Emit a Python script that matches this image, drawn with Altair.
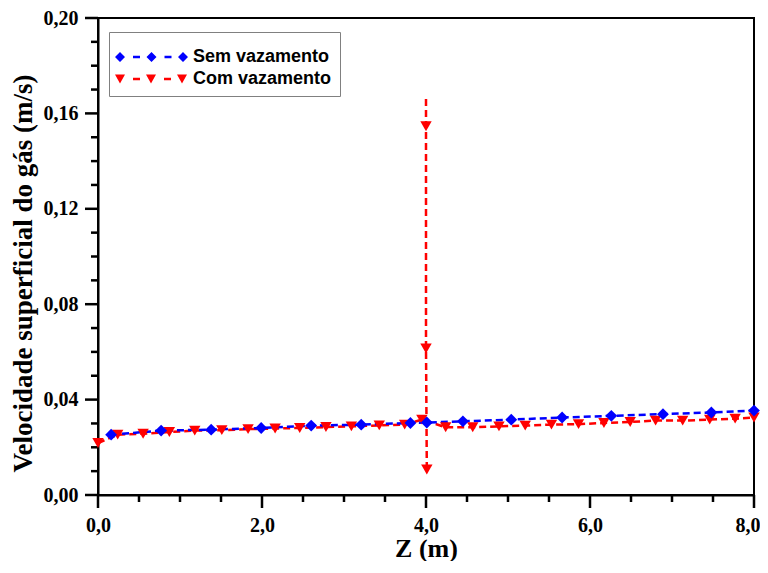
import altair as alt
import pandas as pd

# ---- data ----
series_names = ["Sem vazamento", "Com vazamento"]

blue_x = [0.16, 0.77, 1.38, 1.99, 2.60, 3.21, 3.81, 4.01, 4.45, 5.04, 5.66, 6.26, 6.89, 7.48, 8.0]
blue_y = [0.0253, 0.0270, 0.0274, 0.0281, 0.0291, 0.0295, 0.0302, 0.0304, 0.0309, 0.0316,
          0.0325, 0.0332, 0.0339, 0.0346, 0.0354]

red_x = [0.0, 0.24, 0.55, 0.87, 1.18, 1.51, 1.83, 2.16, 2.46, 2.78, 3.09, 3.43, 3.74, 3.95,
         4.24, 4.57, 4.89, 5.21, 5.53, 5.86, 6.17, 6.49, 6.80, 7.13, 7.46, 7.77, 8.0]
red_y = [0.0218, 0.0253, 0.0257, 0.0264, 0.0270, 0.0272, 0.0276, 0.0279, 0.0281, 0.0285, 0.0288,
         0.0292, 0.0295, 0.0316,
         0.0284, 0.0284, 0.0288, 0.0291, 0.0295, 0.0297, 0.0302, 0.0306, 0.0312, 0.0312,
         0.0316, 0.0320, 0.0325]
red_marker = [True] * len(red_x)

# the leak spike of the red series at Z = 4 m
spike_x = [4.0, 4.0, 4.0, 4.01]
spike_y = [0.166, 0.1546, 0.0614, 0.0107]
spike_marker = [False, True, True, True]

x_major = [0, 2, 4, 6, 8]
x_minor = [0.5, 1, 1.5, 2.5, 3, 3.5, 4.5, 5, 5.5, 6.5, 7, 7.5]
y_major = [0.0, 0.04, 0.08, 0.12, 0.16, 0.20]
y_minor = [0.01, 0.02, 0.03, 0.05, 0.06, 0.07, 0.09, 0.10, 0.11,
           0.13, 0.14, 0.15, 0.17, 0.18, 0.19]

W, H = 656, 477
MAJOR, MINOR = 13, 7

blue = pd.DataFrame({"z": blue_x, "v": blue_y, "i": list(range(len(blue_x)))})
red = pd.DataFrame({
    "z": red_x + spike_x,
    "v": red_y + spike_y,
    "i": list(range(len(red_x) + len(spike_x))),
    "m": red_marker + spike_marker,
    "seg": ["main"] * len(red_x) + ["spike"] * len(spike_x),
})
leg = pd.DataFrame({"s": series_names})

BLUE = "#0000FF"
RED = "#FF0000"
serif = "Liberation Serif"

xs = alt.Scale(domain=[0, 8], nice=False, zero=False)
ys = alt.Scale(domain=[0, 0.2], nice=False, zero=False)

x_axis = alt.Axis(
    orient="bottom", values=x_major,
    labelExpr="replace(format(datum.value, '.1f'), '.', ',')",
    labelAlign={"condition": {"test": "datum.value >= 8", "value": "right"}, "value": "center"},
    labelOffset={"condition": {"test": "datum.value >= 8", "value": 6}, "value": 0},
    ticks=False, domainWidth=2, domainColor="black",
    labelFont=serif, labelFontWeight="bold", labelFontSize=20, labelColor="black",
    labelPadding=MAJOR + 7, labelFlush=False, labelOverlap=False,
    title="Z (m)", titleFont=serif, titleFontWeight="bold", titleFontSize=26,
    titleColor="black", titlePadding=0, grid=False)
y_axis = alt.Axis(
    orient="left", values=y_major,
    labelExpr="replace(format(datum.value, '.2f'), '.', ',')",
    ticks=False, domainWidth=2, domainColor="black",
    labelFont=serif, labelFontWeight="bold", labelFontSize=20, labelColor="black",
    labelPadding=MAJOR + 7, labelFlush=False, labelOverlap=False,
    title="Velocidade superficial do gás (m/s)", titleFont=serif, titleFontWeight="bold",
    titleFontSize=27, titleColor="black", titlePadding=6, titleY=255, grid=False)


def x_tick_layer(values, length):
    return alt.Chart(pd.DataFrame({"t": values})).mark_rule(color="black", strokeWidth=2.5).encode(
        x=alt.X("t:Q", scale=xs), y=alt.value(H), y2=alt.value(H + length))


def y_tick_layer(values, length):
    return alt.Chart(pd.DataFrame({"t": values})).mark_rule(color="black", strokeWidth=2.5).encode(
        y=alt.Y("t:Q", scale=ys), x=alt.value(0), x2=alt.value(-length))


red_line = alt.Chart(red).mark_line(color=RED, strokeWidth=2.5, strokeDash=[7, 4]).encode(
    x=alt.X("z:Q", scale=xs, axis=x_axis),
    y=alt.Y("v:Q", scale=ys, axis=y_axis),
    detail="seg:N",
    order="i:Q")
blue_line = alt.Chart(blue).mark_line(color=BLUE, strokeWidth=2.5, strokeDash=[7, 4]).encode(
    x=alt.X("z:Q", scale=xs),
    y=alt.Y("v:Q", scale=ys),
    order="i:Q")
red_pts = alt.Chart(red).transform_filter("datum.m").mark_point(
    shape="triangle-down", filled=True, size=130, color=RED, opacity=1).encode(
    x=alt.X("z:Q", scale=xs), y=alt.Y("v:Q", scale=ys))
blue_pts = alt.Chart(blue).mark_point(
    shape="diamond", filled=True, size=140, color=BLUE, opacity=1).encode(
    x=alt.X("z:Q", scale=xs), y=alt.Y("v:Q", scale=ys))

ticks = [x_tick_layer(x_major, MAJOR), x_tick_layer(x_minor, MINOR),
         y_tick_layer(y_major, MAJOR), y_tick_layer(y_minor, MINOR)]

path_sem = ("M-5,0L0,-5L5,0L0,5Z M13,-1.25L20,-1.25L20,1.25L13,1.25Z "
            "M26.5,0L31.5,-5L36.5,0L31.5,5Z M44.5,-1.25L51.5,-1.25L51.5,1.25L44.5,1.25Z "
            "M58,0L63,-5L68,0L63,5Z")
path_com = ("M-5,-4.5L5,-4.5L0,4.5Z M13,-1.25L20,-1.25L20,1.25L13,1.25Z "
            "M26,-4.5L36,-4.5L31,4.5Z M44,-1.25L51,-1.25L51,1.25L44,1.25Z "
            "M57,-4.5L67,-4.5L62,4.5Z")

legend = alt.Legend(title=" ", titleFontSize=8, titlePadding=0,
                    orient="none", legendX=11, legendY=14, symbolSize=4,
                    symbolStrokeWidth=0, labelFont="Liberation Sans", labelFontSize=18,
                    labelFontWeight="bold", labelColor="black", labelOffset=64,
                    symbolOffset=-6, padding=8, rowPadding=4, strokeColor="#808080",
                    fillColor="white", labelLimit=400)
legend_layer = alt.Chart(leg).transform_filter("false").mark_point(filled=True, opacity=1).encode(
    color=alt.Color("s:N", scale=alt.Scale(domain=series_names, range=[BLUE, RED]), legend=legend),
    shape=alt.Shape("s:N", scale=alt.Scale(domain=series_names, range=[path_sem, path_com]), legend=legend))

chart = alt.layer(*ticks, red_line, blue_line, red_pts, blue_pts, legend_layer).properties(
    width=W, height=H, background="white",
    autosize=alt.AutoSizeParams(type="none"),
    padding={"left": 90, "top": 10, "right": 6, "bottom": 66},
).configure_view(stroke="black", strokeWidth=2)

chart.save("out.html", embed_options={"renderer": "svg", "actions": False})
